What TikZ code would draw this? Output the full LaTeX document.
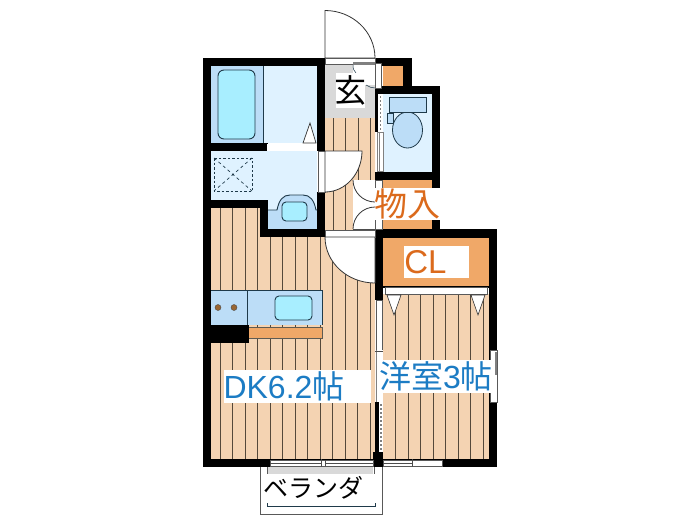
\documentclass[tikz,border=0pt]{standalone}
\usepackage{fontspec}
\setmainfont{Liberation Sans}
\newfontfamily\jpfont{Noto Sans CJK JP}
\definecolor{wood}{HTML}{F4D3B2}
\definecolor{woodline}{HTML}{54483A}
\definecolor{wet}{HTML}{DFF2FF}
\definecolor{wetdark}{HTML}{BCDDF7}
\definecolor{tubfill}{HTML}{A8EEFF}
\definecolor{store}{HTML}{F0A868}
\definecolor{entry}{HTML}{D9D9D9}
\definecolor{linedark}{HTML}{1F3A4A}
\definecolor{lblorange}{HTML}{DB6A1C}
\definecolor{lblblue}{HTML}{1C7CC4}
\tikzset{
  wall/.style={fill=black,draw=none},
  fixture/.style={draw=linedark,line width=0.9pt,rounded corners=4pt,fill=tubfill},
  opening/.style={fill=white,draw=gray!70!black,line width=0.4pt},
  doorleaf/.style={fill=white,draw=black!80,line width=0.8pt},
  stripe/.style={draw=woodline,line width=0.9pt},
  lblbg/.style={fill=white,draw=none,inner sep=0pt,anchor=center},
  lbl/.style={inner sep=0pt,anchor=center}
}
\begin{document}
\begin{tikzpicture}[x=1pt,y=-1pt]
\useasboundingbox (0,0) rectangle (700,525);
% wood floors
\fill[wood] (211,208) -- (260,208) -- (260,237) -- (325,237) -- (325,118) -- (375,118) -- (375,459) -- (211,459) -- cycle;
\fill[wood] (382,294) rectangle (489,459);
% stripes
\foreach \x in {220,232.5,245,257.5} \draw[stripe] (\x,208) -- (\x,459);
\foreach \x in {270,282.5,295,307.5,320,332.5,345,357.5,370} \draw[stripe] (\x,237) -- (\x,459);
\foreach \x in {333,345.5,358,370} \draw[stripe] (\x,118) -- (\x,237);
\foreach \x in {395,408,420.5,433,445.5,458,470.5,483} \draw[stripe] (\x,294) -- (\x,459);
% wet rooms
\fill[wet] (263,66) rectangle (317,143);
\fill[wetdark] (211,66) rectangle (263,143);
\draw[linedark,line width=1pt] (263.5,66) -- (263.5,143);
\fill[wet] (211,151) rectangle (317,200);
\fill[wet] (268,151) rectangle (317,210);
\fill[wetdark] (268,210) rectangle (317,229);
\fill[wet] (383,94) rectangle (432,172);
% stores
\fill[store] (383,66) rectangle (403,86);
\fill[store] (383,180) rectangle (432,229);
\fill[store] (383,238) rectangle (489,286);
% entry
\fill[entry] (325,65) rectangle (375,118);
% walls
\fill[wall] (203,58) rectangle (325,66);
\fill[wall] (203,58) rectangle (211,467);
\fill[wall] (317,58) rectangle (325,151);
\fill[wall] (211,143) rectangle (268,151);
\fill[wall] (203,200) rectangle (268,208);
\fill[wall] (260,200) rectangle (268,237);
\fill[wall] (260,229) rectangle (325,237);
\fill[wall] (317,192) rectangle (325,237);
\fill[wall] (375,58) rectangle (412,66);
\fill[wall] (403,58) rectangle (412,94);
\fill[wall] (375,86) rectangle (440,94);
\fill[wall] (432,86) rectangle (440,188);
\fill[wall] (375,172) rectangle (440,180);
\fill[wall] (432,220) rectangle (440,237);
\fill[wall] (375,229) rectangle (497,238);
\fill[wall] (375,237) rectangle (383,300);
\fill[wall] (383,286) rectangle (489,288);
\fill[wall] (489,229) rectangle (497,467);
\fill[wall] (203,459) rectangle (497,467);
\fill[wall] (373,452) rectangle (383,467);
\fill[wall] (375,94) rectangle (378,132);
% main door
\draw[doorleaf] (325,58) -- (325,10.5) arc[start angle=-90,end angle=0,x radius=50,y radius=47.5] -- cycle;
\draw[opening] (325,58) rectangle (375,64);
\fill[white] (353,65) rectangle (375,85);
\fill[gray] (353,62) rectangle (375,65);
\draw[linedark,line width=0.5pt] (353,65) .. controls (353,69) and (354,71) .. (356,73);
\draw[linedark,line width=0.5pt] (366,85) .. controls (369,87) and (372,88) .. (375,88);
\draw[opening] (375,63) rectangle (381,88);
% toilet door strip
\fill[white] (378,94) rectangle (383,172);
\draw[gray,line width=1.5pt,dash pattern=on 1.5pt off 2.5pt] (380.5,96) -- (380.5,132);
\draw[gray,line width=0.5pt] (377,132) rectangle (379,171);
\draw[gray,line width=0.5pt] (379,132) rectangle (383,171);
% wash door
\draw[opening] (318,151) rectangle (325,192);
\draw[doorleaf] (325,151) -- (362,151) arc[start angle=0,end angle=90,x radius=37,y radius=41] -- cycle;
% closet doors
\fill[white] (353,180) rectangle (375,229);
\draw[doorleaf,fill=none] (353,180) arc[start angle=180,end angle=90,radius=22];
\draw[doorleaf,fill=none] (353,229) arc[start angle=180,end angle=270,radius=22];
\draw[black!70,line width=0.5pt] (353,229.5) -- (375,229.5);
\draw[opening] (375,180) rectangle (382,229);
% dk door
\draw[opening] (325,230) rectangle (375,237);
\draw[doorleaf] (325,237) -- (375,237) -- (375,283) arc[start angle=90,end angle=180,x radius=50,y radius=46] -- cycle;
% cl door + triangles
\draw[opening] (385,287) rectangle (487,294);
\draw[doorleaf,line width=0.6pt] (387,295) -- (401,295) -- (394,315) -- cycle;
\draw[doorleaf,line width=0.6pt] (471,295) -- (485,295) -- (478,315) -- cycle;
% partition strip
\draw[opening] (376,300) rectangle (382,350);
\fill[white] (376,350) rectangle (383,402);
\draw[gray,line width=0.4pt] (376,350) -- (376,402);
\draw[gray!60!black,line width=0.6pt] (375,351) -- (383,351);
\fill[black] (375,402) rectangle (379,452);
\fill[white] (379,402) rectangle (383,452);
\draw[gray,line width=1.5pt,dash pattern=on 1.5pt off 2.5pt] (381,404) -- (381,451);
% side window
\draw[opening] (490,350) rectangle (497,402);
\draw[gray,line width=1.5pt] (496,352) -- (496,375);
% balcony windows
\draw[opening] (270,460) rectangle (373,466);
\draw[gray!60!black,line width=0.5pt] (270,463) -- (321,463) (325,463) -- (373,463);
\draw[gray!60!black,line width=0.5pt] (321,459) -- (321,467) (325,460) -- (325,466);
\draw[opening] (383,460) rectangle (442,466);
\draw[gray!60!black,line width=0.5pt] (383,463) -- (412,463) (412,459) -- (412,467);
% bath
\draw[fixture,rounded corners=6pt] (218,70) rectangle (255,139);
\draw[opening,draw=none] (267,144) rectangle (317,151);
\draw[fill=white,draw=black!80,line width=0.7pt] (303,143) -- (310,123) -- (316,143) -- cycle;
% washer
\draw[linedark,line width=0.9pt,dash pattern=on 2.5pt off 2pt] (214,158) rectangle (252,191);
\draw[linedark,line width=0.7pt,dash pattern=on 3pt off 3pt] (214,158) -- (252,191) (252,158) -- (214,191);
% basin
\draw[linedark,line width=0.9pt,fill=wetdark] (268,210) -- (277,210) .. controls (279,200) and (283,195) .. (290,195) -- (303,195) .. controls (310,195) and (314,200) .. (316,210) -- (317,210);
\draw[fixture] (282,202) rectangle (307,221);
% toilet
\draw[linedark,line width=0.8pt,fill=wetdark] (407.5,130) ellipse [x radius=15,y radius=18];
\draw[linedark,line width=0.7pt,fill=wetdark] (389,97) rectangle (426,112);
\draw[linedark,line width=0.7pt,fill=wetdark] (387,113) rectangle (393,123);
% kitchen
\fill[wetdark] (211,290) rectangle (322,325);
\draw[linedark,line width=0.7pt] (211,290.5) -- (322,290.5) -- (322,325);
\draw[linedark,line width=0.7pt] (247,290) -- (247,325);
\draw[fixture] (275,296) rectangle (312,320);
\fill[wall] (203,325) rectangle (249,343);
\fill[store] (249,328) rectangle (322,338);
\draw[linedark!70!store,line width=0.7pt] (249,327.5) -- (322,327.5) -- (322,338) -- (249,338);
\foreach \x in {218,234} \draw[fill=brown!80!black,draw=black!70,line width=0.4pt] (\x,307.5) circle (3);
% verandah
\draw[gray!70!black,line width=0.7pt] (260,467) -- (260,514) -- (382,514) -- (382,467);
\fill[black!15] (268,467) rectangle (373,474);
\draw[gray!70!black,line width=0.6pt] (267,467) -- (267,474) (374,467) -- (374,474);
\draw[linedark,line width=0.8pt] (267,503) -- (267,506) -- (375,506) -- (375,503);
% labels
\node[lblbg,minimum width=29pt,minimum height=35pt] (bg1) at (350.5,90) {};
\node[lbl,font=\jpfont\fontsize{32}{32}\selectfont] (t1) at (bg1) {玄};
\node[lblbg,minimum width=65pt,minimum height=32pt] (bg2) at (407,204) {};
\node[lbl,font=\jpfont\fontsize{33}{33}\selectfont,text=lblorange] (t2) at (bg2) {物入};
\node[lblbg,minimum width=65pt,minimum height=32pt] (bg3) at (436,262) {};
\node[lbl,font=\fontsize{33}{33}\selectfont,text=lblorange] (t3) at (425.5,262) {CL};
\node[lblbg,minimum width=147pt,minimum height=33pt] (bg4) at (297.5,386.5) {};
\node[lbl,font=\fontsize{32}{32}\selectfont,text=lblblue] (t4) at (284,386) {DK6.2{\jpfont 帖}};
\node[lblbg,minimum width=116pt,minimum height=33pt] (bg5) at (437,376.5) {};
\node[lbl,font=\jpfont\fontsize{32}{32}\selectfont,text=lblblue] (t5) at (436,376) {洋室{\fontspec{Liberation Sans}3}帖};
\node[lbl,font=\jpfont\fontsize{25}{25}\selectfont] (t6) at (313,488) {ベランダ};
\end{tikzpicture}
\end{document}
